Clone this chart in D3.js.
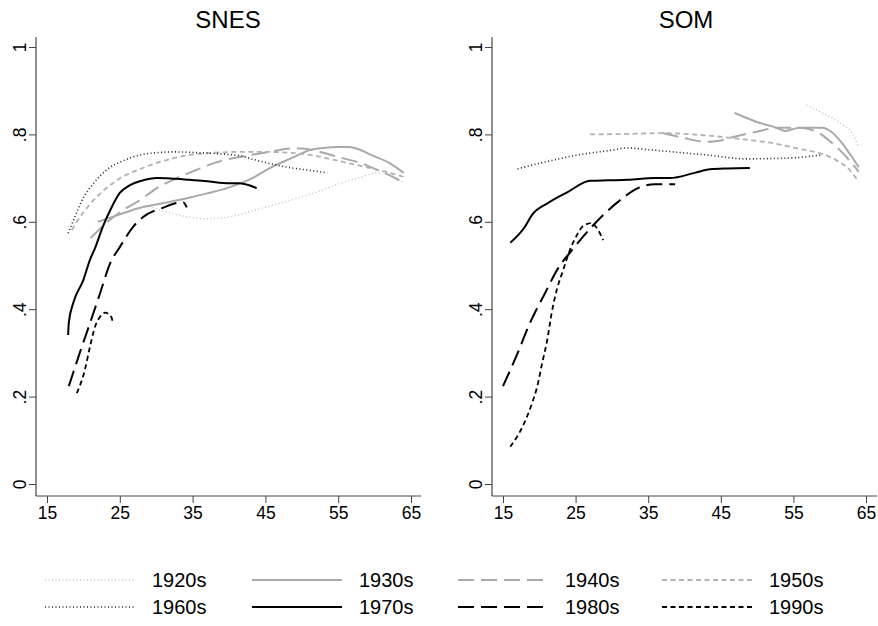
<!DOCTYPE html>
<html>
<head>
<meta charset="utf-8">
<script src="https://cdn.jsdelivr.net/npm/d3@7"></script>
<style>
  html, body { margin: 0; padding: 0; background: #fff; }
  svg { display: block; font-family: "Liberation Sans", Arial, Helvetica, sans-serif; }
</style>
</head>
<body>
<svg id="chart" width="878" height="626"></svg>
<script>
// ---------- DATA (age, share) ----------
const panels = ["SNES", "SOM"];
const cohorts = ["1920s", "1930s", "1940s", "1950s", "1960s", "1970s", "1980s", "1990s"];
const xTicks = [15, 25, 35, 45, 55, 65];
const yTicks = [0, 0.2, 0.4, 0.6, 0.8, 1];

// SNES
const snes1920 = [[29,0.635],[31,0.625],[34,0.612],[37,0.607],[40,0.611],[43,0.624],[46,0.638],[49,0.652],[52,0.668],[55,0.686],[58,0.702],[60.5,0.712],[62,0.708],[64,0.69]];
const snes1930 = [[22,0.60],[25,0.617],[27.8,0.632],[31,0.643],[34.2,0.654],[37,0.665],[39.7,0.677],[43,0.698],[45.6,0.723],[48.5,0.745],[51.1,0.764],[53,0.769],[55,0.771],[56.5,0.771],[58,0.765],[59.5,0.753],[62,0.735],[64,0.712]];
const snes1940 = [[21,0.563],[23,0.595],[25,0.622],[27.8,0.65],[30,0.676],[32.3,0.696],[35,0.715],[38.4,0.737],[42,0.75],[45.6,0.76],[48.5,0.768],[50,0.768],[52,0.762],[54,0.753],[56,0.744],[58,0.735],[60.7,0.716],[62.5,0.703],[64,0.689]];
const snes1950 = [[18.4,0.581],[19.5,0.61],[20.9,0.64],[23,0.675],[25.4,0.703],[28,0.722],[30.1,0.735],[32.5,0.746],[34.6,0.753],[38,0.758],[41.5,0.76],[45,0.76],[48.4,0.758],[51.5,0.752],[54.3,0.742],[57.5,0.73],[60.7,0.718],[64,0.703]];
const snes1960 = [[17.9,0.574],[18.8,0.61],[19.9,0.652],[21.5,0.69],[23.2,0.719],[25.5,0.74],[27.8,0.753],[30,0.758],[32.3,0.76],[36,0.758],[41.5,0.751],[43.5,0.742],[46,0.732],[48,0.725],[51,0.718],[53.5,0.712]];
const snes1970 = [[17.9,0.341],[18,0.37],[18.6,0.414],[20,0.467],[20.9,0.513],[21.6,0.54],[22.7,0.59],[23.9,0.634],[25,0.666],[26.4,0.684],[28,0.694],[30.1,0.70],[32,0.699],[34.6,0.696],[37,0.693],[39.2,0.689],[41.5,0.688],[43.8,0.677]];
const snes1980 = [[18,0.224],[19.5,0.30],[20.9,0.368],[22.3,0.437],[23.7,0.506],[25,0.542],[26.8,0.588],[28.2,0.611],[30.9,0.632],[33.7,0.645],[34.2,0.633]];
const snes1990 = [[19.1,0.208],[20.2,0.261],[20.9,0.314],[21.6,0.36],[22.3,0.383],[23,0.392],[23.9,0.38],[24,0.366]];

// SOM
const som1920 = [[56.8,0.867],[59,0.849],[61.8,0.822],[63.1,0.803],[64,0.77]];
const som1930 = [[46.9,0.849],[48.5,0.838],[50.4,0.826],[52.7,0.815],[53.8,0.808],[55.9,0.815],[59,0.815],[60.2,0.806],[61.8,0.778],[63,0.75],[64,0.725]];
const som1940 = [[37,0.803],[39.8,0.792],[43,0.783],[45,0.786],[46.2,0.792],[49.9,0.806],[52.7,0.815],[55.9,0.815],[58.2,0.806],[60,0.785],[61.4,0.764],[63,0.735],[64,0.714]];
const som1950 = [[27,0.80],[32,0.801],[37,0.803],[41,0.8],[45.3,0.794],[49,0.787],[52.1,0.78],[55.5,0.768],[59,0.755],[61,0.74],[62.8,0.718],[64,0.691]];
const som1960 = [[17,0.721],[20.8,0.737],[25.3,0.753],[30,0.764],[32,0.769],[35,0.765],[38.4,0.76],[43,0.753],[48.5,0.744],[54.4,0.746],[59,0.753]];
const som1970 = [[16,0.552],[18,0.588],[19,0.616],[21.2,0.643],[23.9,0.668],[27,0.694],[29.5,0.695],[32.2,0.696],[35.9,0.70],[38,0.70],[41.4,0.712],[43.5,0.72],[46,0.722],[49,0.723]];
const som1980 = [[15,0.224],[16.9,0.295],[18.7,0.368],[20.8,0.437],[22.6,0.494],[24.5,0.535],[27.2,0.588],[30.8,0.645],[33.6,0.677],[35.9,0.686],[38.7,0.686]];
const som1990 = [[16,0.085],[17.8,0.135],[19,0.185],[19.7,0.222],[20.4,0.277],[21.1,0.33],[21.7,0.391],[22.4,0.444],[23.3,0.49],[24.2,0.535],[25.2,0.57],[26,0.59],[27.2,0.597],[28.1,0.581],[28.8,0.558]];

const panelSeries = [
  [snes1920, snes1930, snes1940, snes1950, snes1960, snes1970, snes1980, snes1990],
  [som1920, som1930, som1940, som1950, som1960, som1970, som1980, som1990]
];

// ---------- STYLES ----------
const styles = {
  "1920s": { color: "#c4c4c4", dash: "1,2.5", width: 1.5 },
  "1930s": { color: "#a9a9a9", dash: null,    width: 2 },
  "1940s": { color: "#a9a9a9", dash: "16,7",  width: 2 },
  "1950s": { color: "#b2b2b2", dash: "5,3.5", width: 1.8 },
  "1960s": { color: "#222222", dash: "1,2.5", width: 1.6 },
  "1970s": { color: "#000000", dash: null,    width: 2 },
  "1980s": { color: "#000000", dash: "16,7",  width: 2 },
  "1990s": { color: "#000000", dash: "5,3.5", width: 1.8 }
};

const svg = d3.select("#chart");

const layout = [
  { left: 36, right: 421, x0: 47, x1: 411, titleX: 228 },
  { left: 492, right: 877, x0: 503, x1: 866, titleX: 686 }
];
const plotTop = 37, plotBottom = 496;
const y = d3.scaleLinear().domain([0, 1]).range([484, 47]);
const fmt = d => d === 0 ? "0" : d === 1 ? "1" : String(d).replace(/^0/, "");

panels.forEach((name, pi) => {
  const L = layout[pi];
  const x = d3.scaleLinear().domain([15, 65]).range([L.x0, L.x1]);
  const g = svg.append("g");

  g.append("text").attr("x", L.titleX).attr("y", 28)
    .attr("text-anchor", "middle").attr("font-size", 24).attr("fill", "#000")
    .text(name);

  const xa = g.append("g").attr("transform", `translate(0,${plotBottom})`)
    .call(d3.axisBottom(x).tickValues(xTicks).tickSize(7).tickSizeOuter(0).tickFormat(d3.format("d")));
  xa.select(".domain").remove();
  xa.selectAll(".tick line").attr("stroke", "#444");
  xa.selectAll(".tick text").attr("font-size", 17.5).attr("font-family", "Liberation Sans, Arial, sans-serif")
    .attr("fill", "#000").attr("y", 11).attr("dy", "0.71em");
  g.append("line").attr("x1", L.left).attr("x2", L.right).attr("y1", plotBottom).attr("y2", plotBottom)
    .attr("stroke", "#444").attr("stroke-width", 1.2);

  const ya = g.append("g").attr("transform", `translate(${L.left},0)`)
    .call(d3.axisLeft(y).tickValues(yTicks).tickSize(7).tickSizeOuter(0).tickFormat(fmt));
  ya.select(".domain").remove();
  ya.selectAll(".tick line").attr("stroke", "#444");
  ya.selectAll(".tick text").attr("font-size", 17.5).attr("font-family", "Liberation Sans, Arial, sans-serif")
    .attr("fill", "#000")
    .attr("transform", "rotate(-90)").attr("x", 0).attr("y", -10).attr("dy", 0)
    .attr("text-anchor", "middle");
  g.append("line").attr("x1", L.left).attr("x2", L.left).attr("y1", plotTop).attr("y2", plotBottom)
    .attr("stroke", "#444").attr("stroke-width", 1.2);

  const line = d3.line().x(d => x(d[0])).y(d => y(d[1])).curve(d3.curveMonotoneX);
  panelSeries[pi].forEach((data, si) => {
    const st = styles[cohorts[si]];
    g.append("path").datum(data).attr("d", line)
      .attr("fill", "none").attr("stroke", st.color)
      .attr("stroke-width", st.width)
      .attr("stroke-dasharray", st.dash)
      .attr("stroke-linejoin", "round");
  });
});

// ---------- LEGEND ----------
const legX = [45, 252, 458, 662];
const legY = [580, 607];
cohorts.forEach((c, i) => {
  const col = i % 4, row = Math.floor(i / 4);
  const st = styles[c];
  const lx = legX[col], ly = legY[row];
  svg.append("line").attr("x1", lx).attr("x2", lx + 90).attr("y1", ly).attr("y2", ly)
    .attr("stroke", st.color).attr("stroke-width", st.width)
    .attr("stroke-dasharray", st.dash);
  svg.append("text").attr("x", lx + 107).attr("y", ly).attr("dy", "0.36em")
    .attr("font-size", 20).attr("fill", "#000").text(c);
});
</script>
</body>
</html>
